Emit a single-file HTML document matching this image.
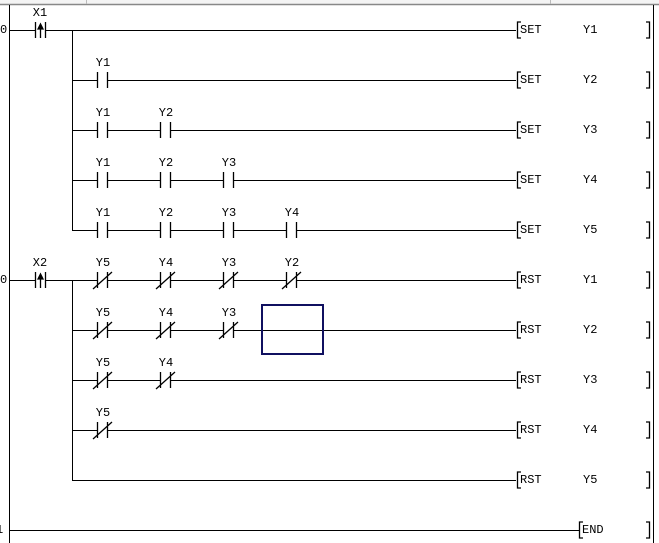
<!DOCTYPE html>
<html><head><meta charset="utf-8"><style>
html,body{margin:0;padding:0;background:#fff;width:659px;height:543px;overflow:hidden}
text{font-family:"Liberation Mono",monospace;font-size:12px;fill:#000}
</style></head><body>
<svg width="659" height="543" viewBox="0 0 659 543" xmlns="http://www.w3.org/2000/svg">
<rect x="0" y="0" width="659" height="4" fill="#f4f4f4"/>
<line x1="0" y1="4.5" x2="659" y2="4.5" stroke="#888" stroke-width="1.5"/>
<line x1="86.5" y1="0" x2="86.5" y2="4" stroke="#bbb"/>
<line x1="550.5" y1="0" x2="550.5" y2="4" stroke="#bbb"/>
<g stroke="#000" stroke-width="1" fill="none" shape-rendering="crispEdges">
<line x1="9.5" y1="5" x2="9.5" y2="543"/>
<line x1="653.5" y1="5" x2="653.5" y2="543"/>
<line x1="72.5" y1="30" x2="72.5" y2="230"/>
<line x1="72.5" y1="280" x2="72.5" y2="480"/>
</g>
<g id="rows" stroke="#000" stroke-width="1" fill="none" shape-rendering="crispEdges">
<!-- horizontal lines -->
<line x1="9" y1="30.5" x2="516" y2="30.5"/>
<line x1="72" y1="80.5" x2="516" y2="80.5"/>
<line x1="72" y1="130.5" x2="516" y2="130.5"/>
<line x1="72" y1="180.5" x2="516" y2="180.5"/>
<line x1="72" y1="230.5" x2="516" y2="230.5"/>
<line x1="9" y1="280.5" x2="516" y2="280.5"/>
<line x1="72" y1="330.5" x2="516" y2="330.5"/>
<line x1="72" y1="380.5" x2="516" y2="380.5"/>
<line x1="72" y1="430.5" x2="516" y2="430.5"/>
<line x1="72" y1="480.5" x2="516" y2="480.5"/>
<line x1="9" y1="530.5" x2="579" y2="530.5"/>
</g>
<g fill="#fff">
<rect x="36" y="25" width="9" height="11"/><rect x="36" y="275" width="9" height="11"/>
<rect x="98" y="75" width="9" height="11"/>
<rect x="98" y="125" width="9" height="11"/><rect x="161" y="125" width="9" height="11"/>
<rect x="98" y="175" width="9" height="11"/><rect x="161" y="175" width="9" height="11"/><rect x="224" y="175" width="9" height="11"/>
<rect x="98" y="225" width="9" height="11"/><rect x="161" y="225" width="9" height="11"/><rect x="224" y="225" width="9" height="11"/><rect x="287" y="225" width="9" height="11"/>
<rect x="98" y="275" width="9" height="11"/><rect x="161" y="275" width="9" height="11"/><rect x="224" y="275" width="9" height="11"/><rect x="287" y="275" width="9" height="11"/>
<rect x="98" y="325" width="9" height="11"/><rect x="161" y="325" width="9" height="11"/><rect x="224" y="325" width="9" height="11"/>
<rect x="98" y="375" width="9" height="11"/><rect x="161" y="375" width="9" height="11"/>
<rect x="98" y="425" width="9" height="11"/>
</g>
<g stroke="#000" stroke-width="1.3" fill="none">
<!-- X1, X2 rising edge contacts -->
<path d="M35.5 22V38M45.5 22V38M40.5 38V26"/><path d="M38 29L40.5 24L43 29Z" fill="#000"/>
<path d="M35.5 272V288M45.5 272V288M40.5 288V276"/><path d="M38 279L40.5 274L43 279Z" fill="#000"/>
<!-- NO contacts -->
<path d="M97.5 72V88M107.5 72V88"/>
<path d="M97.5 122V138M107.5 122V138M160.5 122V138M170.5 122V138"/>
<path d="M97.5 172V188M107.5 172V188M160.5 172V188M170.5 172V188M223.5 172V188M233.5 172V188"/>
<path d="M97.5 222V238M107.5 222V238M160.5 222V238M170.5 222V238M223.5 222V238M233.5 222V238M286.5 222V238M296.5 222V238"/>
<!-- NC contacts -->
<path d="M97.5 272V288M107.5 272V288M93 289L112 272M160.5 272V288M170.5 272V288M156 289L175 272M223.5 272V288M233.5 272V288M219 289L238 272M286.5 272V288M296.5 272V288M282 289L301 272"/>
<path d="M97.5 322V338M107.5 322V338M93 339L112 322M160.5 322V338M170.5 322V338M156 339L175 322M223.5 322V338M233.5 322V338M219 339L238 322"/>
<path d="M97.5 372V388M107.5 372V388M93 389L112 372M160.5 372V388M170.5 372V388M156 389L175 372"/>
<path d="M97.5 422V438M107.5 422V438M93 439L112 422"/>
<!-- brackets -->
<path d="M521 22H517.5V38H521M646 22H649.5V38H646"/>
<path d="M521 72H517.5V88H521M646 72H649.5V88H646"/>
<path d="M521 122H517.5V138H521M646 122H649.5V138H646"/>
<path d="M521 172H517.5V188H521M646 172H649.5V188H646"/>
<path d="M521 222H517.5V238H521M646 222H649.5V238H646"/>
<path d="M521 272H517.5V288H521M646 272H649.5V288H646"/>
<path d="M521 322H517.5V338H521M646 322H649.5V338H646"/>
<path d="M521 372H517.5V388H521M646 372H649.5V388H646"/>
<path d="M521 422H517.5V438H521M646 422H649.5V438H646"/>
<path d="M521 472H517.5V488H521M646 472H649.5V488H646"/>
<path d="M583 522H579.5V538H583M646 522H649.5V538H646"/>
</g>
<rect x="262" y="305" width="61" height="49" fill="none" stroke="#101060" stroke-width="2"/>
<g>
<text x="0" y="33">0</text><text x="0" y="283">0</text><text x="-4" y="533">1</text>
<text x="40" y="16" text-anchor="middle">X1</text>
<text x="40" y="266" text-anchor="middle">X2</text>
<g text-anchor="middle">
<text x="103" y="66">Y1</text>
<text x="103" y="116">Y1</text><text x="166" y="116">Y2</text>
<text x="103" y="166">Y1</text><text x="166" y="166">Y2</text><text x="229" y="166">Y3</text>
<text x="103" y="216">Y1</text><text x="166" y="216">Y2</text><text x="229" y="216">Y3</text><text x="292" y="216">Y4</text>
<text x="103" y="266">Y5</text><text x="166" y="266">Y4</text><text x="229" y="266">Y3</text><text x="292" y="266">Y2</text>
<text x="103" y="316">Y5</text><text x="166" y="316">Y4</text><text x="229" y="316">Y3</text>
<text x="103" y="366">Y5</text><text x="166" y="366">Y4</text>
<text x="103" y="416">Y5</text>
</g>
<text x="520" y="33">SET</text><text x="583" y="33">Y1</text>
<text x="520" y="83">SET</text><text x="583" y="83">Y2</text>
<text x="520" y="133">SET</text><text x="583" y="133">Y3</text>
<text x="520" y="183">SET</text><text x="583" y="183">Y4</text>
<text x="520" y="233">SET</text><text x="583" y="233">Y5</text>
<text x="520" y="283">RST</text><text x="583" y="283">Y1</text>
<text x="520" y="333">RST</text><text x="583" y="333">Y2</text>
<text x="520" y="383">RST</text><text x="583" y="383">Y3</text>
<text x="520" y="433">RST</text><text x="583" y="433">Y4</text>
<text x="520" y="483">RST</text><text x="583" y="483">Y5</text>
<text x="582" y="533">END</text>
</g>
</svg>
</body></html>
